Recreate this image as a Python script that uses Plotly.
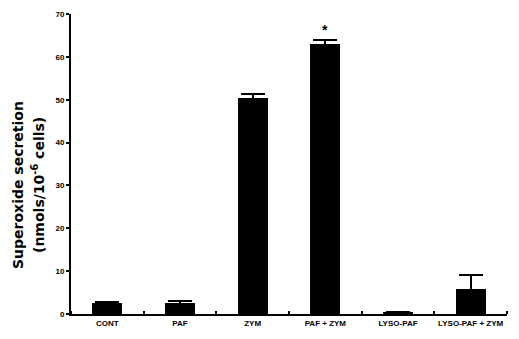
import plotly.graph_objects as go

categories = ["CONT", "PAF", "ZYM", "PAF + ZYM", "LYSO-PAF", "LYSO-PAF + ZYM"]
values = [2.6, 2.5, 50.3, 62.9, 0.4, 5.9]
errors = [0.3, 0.5, 1.1, 1.1, 0.0, 3.1]
y_ticks = [0, 10, 20, 30, 40, 50, 60, 70]
title_lines = ["Superoxide secretion", "(nmols/10<sup>-6</sup> cells)"]
star_index = 3
star_y = 66.3

x = list(range(len(categories)))

fig = go.Figure()
fig.add_trace(go.Bar(
    x=x, y=values, width=0.41,
    marker=dict(color="black", line=dict(width=0)),
    error_y=dict(type="data", array=errors, visible=True, color="black",
                 thickness=2, width=12),
))
fig.add_annotation(x=star_index, y=star_y, text="<b>*</b>", showarrow=False,
                   font=dict(size=14, color="black", family="Liberation Sans"))

for txt, px in zip(title_lines, [-0.1216, -0.0757]):
    fig.add_annotation(xref="paper", yref="paper", x=px, y=0.43,
                       xanchor="center", yanchor="middle", textangle=-90,
                       text="<b>%s</b>" % txt, showarrow=False,
                       font=dict(size=14, color="black", family="DejaVu Sans"))

fig.update_layout(
    width=519, height=339,
    margin=dict(l=63, r=20, t=2, b=33),
    plot_bgcolor="white", paper_bgcolor="white",
    showlegend=False,
    bargap=0,
    font=dict(family="Liberation Sans", color="black"),
    xaxis=dict(
        range=[-0.5, 5.5], tickmode="array", tickvals=x,
        ticktext=["<b>%s</b>" % c for c in categories],
        tickfont=dict(size=8, family="Liberation Sans Narrow, Liberation Sans"),
        ticks="", showline=True, linecolor="black", linewidth=2,
        showgrid=False, zeroline=False, ticklabeloverflow="allow",
        minor=dict(tickmode="linear", tick0=0.5, dtick=1, ticks="inside",
                   ticklen=3, tickwidth=2, tickcolor="black", showgrid=False),
    ),
    yaxis=dict(
        range=[0, 70], tickmode="array", tickvals=y_ticks,
        ticktext=["<b>%d</b>" % v for v in y_ticks],
        tickfont=dict(size=8, family="Liberation Sans"),
        ticks="outside", ticklen=3, tickwidth=2, tickcolor="black",
        showline=True, linecolor="black", linewidth=2,
        showgrid=False, zeroline=False, ticklabeloverflow="allow",
    ),
)

fig.write_html("out.html")
